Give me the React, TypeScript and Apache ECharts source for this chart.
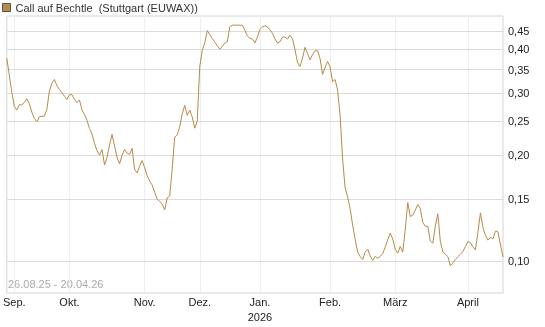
import React, { useEffect, useRef } from "react";
import * as echarts from "echarts";

const seriesName = "Call auf Bechtle  (Stuttgart (EUWAX))";
const dateRange = "26.08.25 - 20.04.26";

const prices = [
  0.377, 0.338, 0.302, 0.275, 0.2685, 0.278, 0.278, 0.282, 0.289, 0.28,
  0.265, 0.254, 0.249, 0.257, 0.258, 0.258, 0.27, 0.304, 0.32, 0.328,
  0.315, 0.307, 0.301, 0.294, 0.288, 0.297, 0.297, 0.288, 0.282, 0.287,
  0.2685, 0.261, 0.251, 0.238, 0.2295, 0.216, 0.2058, 0.2, 0.2074, 0.1875,
  0.197, 0.2136, 0.229, 0.212, 0.197, 0.189, 0.2, 0.2075, 0.2025, 0.201,
  0.209, 0.182, 0.178, 0.186, 0.193, 0.184, 0.175, 0.1685, 0.1645, 0.157,
  0.15, 0.1475, 0.1452, 0.1396, 0.151, 0.153, 0.183, 0.225, 0.228, 0.241,
  0.2615, 0.277, 0.2595, 0.2685, 0.2565, 0.2385, 0.2497, 0.357, 0.3967, 0.417,
  0.452, 0.44, 0.4285, 0.419, 0.409, 0.4, 0.408, 0.416, 0.4205, 0.464,
  0.468, 0.468, 0.468, 0.468, 0.468, 0.4525, 0.436, 0.43, 0.4275, 0.417,
  0.433, 0.455, 0.463, 0.466, 0.4625, 0.4545, 0.444, 0.428, 0.416, 0.42,
  0.433, 0.433, 0.4275, 0.438, 0.428, 0.399, 0.367, 0.357, 0.3775, 0.405,
  0.389, 0.373, 0.386, 0.396, 0.396, 0.376, 0.339, 0.3555, 0.369, 0.356,
  0.323, 0.328, 0.306, 0.259, 0.195, 0.1615, 0.152, 0.141, 0.1265, 0.1153,
  0.106, 0.103, 0.101, 0.106, 0.108, 0.1033, 0.1004, 0.1031, 0.1018, 0.103,
  0.1049, 0.1096, 0.1149, 0.1201, 0.1155, 0.108, 0.1052, 0.11, 0.106, 0.123,
  0.1465, 0.1338, 0.135, 0.1395, 0.1447, 0.1409, 0.1287, 0.1255, 0.1255, 0.114,
  0.1124, 0.1257, 0.1362, 0.1136, 0.1063, 0.1045, 0.1029, 0.0969, 0.0987, 0.101,
  0.1029, 0.1045, 0.1064, 0.11, 0.1135, 0.1128, 0.1097, 0.1075, 0.121, 0.137,
  0.1245, 0.1182, 0.1146, 0.1166, 0.1156, 0.1216, 0.121, 0.111, 0.1027,
];

const monthStartIndex = [3, 25, 55, 77, 101, 129, 155, 184];
const monthLabels = ["Sep.", "Okt.", "Nov.", "Dez.", "Jan.\n2026", "Feb.", "März", "April"];

const yTicks = [0.1, 0.15, 0.2, 0.25, 0.3, 0.35, 0.4, 0.45];
const yMin = 0.0811;
const yMax = 0.497;

const FONT = "Liberation Sans, Arial, sans-serif";
const LINE_COLOR = "#b68b48";

export default function App() {
  const ref = useRef<HTMLDivElement>(null);

  useEffect(() => {
    if (!ref.current) return;
    const chart = echarts.init(ref.current, undefined, { renderer: "svg" });
    const categories = prices.map((_, i) => String(i));
    const isMonthStart = (idx: number) => monthStartIndex.indexOf(idx) >= 0;

    chart.setOption({
      animation: false,
      textStyle: { fontFamily: FONT },
      legend: {
        left: 2,
        top: 2,
        padding: 0,
        icon: "rect",
        itemWidth: 8,
        itemHeight: 8,
        itemGap: 5,
        textStyle: { fontFamily: FONT, fontSize: 11, color: "#333" },
        data: [
          {
            name: seriesName,
            itemStyle: { color: LINE_COLOR, borderColor: "#555", borderWidth: 1 },
          },
        ],
      },
      grid: {
        left: 3,
        right: 42,
        top: 16,
        bottom: 34,
        show: true,
        borderColor: "#d4d4d4",
        borderWidth: 1,
        backgroundColor: "transparent",
      },
      xAxis: {
        type: "category",
        data: categories,
        boundaryGap: false,
        axisLine: { show: false },
        axisTick: { show: false },
        axisLabel: {
          interval: (idx: number) => isMonthStart(idx),
          formatter: (_v: string, idx: number) => {
            const k = monthStartIndex.indexOf(idx);
            return k >= 0 ? monthLabels[k] : "";
          },
          fontFamily: FONT,
          fontSize: 11,
          color: "#222",
          margin: 1,
          lineHeight: 15,
        },
        splitLine: {
          show: true,
          interval: (idx: number) => isMonthStart(idx),
          lineStyle: { color: "#efefef", width: 1 },
        },
      },
      yAxis: {
        type: "log",
        logBase: 10,
        min: yMin,
        max: yMax,
        position: "right",
        axisLine: { show: false },
        axisTick: { show: false },
        axisLabel: { show: false },
        splitLine: { show: false },
      },
      graphic: [
        {
          type: "text",
          left: 8,
          top: 278,
          style: {
            text: dateRange,
            fill: "#aaa",
            font: `11px ${FONT}`,
          },
        },
      ],
      series: [
        {
          name: seriesName,
          type: "line",
          data: prices,
          showSymbol: false,
          symbol: "none",
          z: 3,
          lineStyle: { color: LINE_COLOR, width: 1 },
          itemStyle: { color: LINE_COLOR },
          markLine: {
            silent: true,
            z: 1,
            symbol: ["none", "none"],
            lineStyle: { color: "#dcdcdc", width: 1, type: "solid" },
            label: {
              show: true,
              position: "end",
              distance: 5,
              fontFamily: FONT,
              fontSize: 11,
              color: "#222",
              formatter: (p: any) => Number(p.value).toFixed(2).replace(".", ","),
            },
            data: yTicks.map((v) => ({ yAxis: v })),
          },
        },
      ],
    });

    return () => chart.dispose();
  }, []);

  return (
    <div
      ref={ref}
      style={{ position: "fixed", left: 0, top: 0, width: 545, height: 327 }}
    />
  );
}
